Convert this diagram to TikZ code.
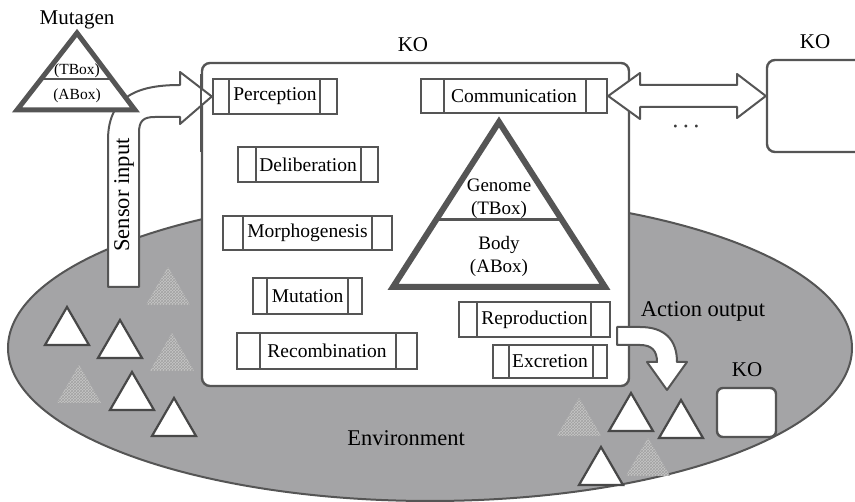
\documentclass[tikz,border=0pt]{standalone}
\usepackage{fontspec}
\setmainfont{Liberation Serif}
\usetikzlibrary{calc,patterns}
\definecolor{lineC}{HTML}{555555}
\definecolor{envC}{HTML}{A4A4A6}
\definecolor{hatchC}{HTML}{C6C6C6}
\definecolor{hatchL}{HTML}{A2A2A2}
\newcommand\modfont{\fontsize{19.5}{22}\selectfont}
\newcommand\labfont{\fontsize{22.5}{25}\selectfont}
\newcommand\kofont{\fontsize{21}{23}\selectfont}
\newcommand\genfont{\fontsize{19}{23}\selectfont}
\newcommand\mutfont{\fontsize{15.5}{17}\selectfont}
\begin{document}
\begin{tikzpicture}[x=1pt,y=-1pt,
  edge/.style={draw=lineC,line width=2.4pt},
  module/.style n args={4}{edge,fill=white,inner sep=0pt,font=\modfont,
    minimum width=#1,minimum height=#2,
    path picture={\draw[lineC,line width=2.4pt]
      ([xshift=#3]path picture bounding box.north west) --
      ([xshift=#3]path picture bounding box.south west)
      ([xshift=-#4]path picture bounding box.north east) --
      ([xshift=-#4]path picture bounding box.south east);}},
  kobox/.style={edge,fill=white,rounded corners=8pt,inner sep=0pt},
  blockarrow/.style={draw=lineC,line width=2pt,fill=white,line join=round},
  wtri/.style={draw=lineC!85!black,line width=2.2pt,fill=white,line join=miter},
  htri/.style={fill=hatchC,postaction={pattern=crosshatch,pattern color=hatchL}},
  bigtri/.style={draw=lineC,line width=6pt,fill=white,line join=miter},
  label/.style={font=\labfont,inner sep=0pt},
  kolabel/.style={font=\kofont,inner sep=0pt}]
\useasboundingbox (0,0) rectangle (855,502);

% environment
\draw[draw=lineC,line width=2pt,fill=envC] (430,348) ellipse [x radius=422pt,y radius=153pt];

% objects lying in the environment
\foreach \ax/\ay in {67/307,120/320,132/372,174/398,631/393,681/400,601/447}
  \draw[wtri] (\ax,\ay) -- ++(-22,38) -- ++(44,0) -- cycle;
\foreach \ax/\ay in {168/267,172/333,79/365,579/398,648/438}
  \path[htri] (\ax,\ay) -- ++(-22,38) -- ++(44,0) -- cycle;

% the knowledge object
\node[kobox,minimum width=427pt,minimum height=323pt] (ko) at (415.5,224.5) {};
\node[kolabel] (kolab) at (413,45) {KO};

% modules
\node[module={124pt}{35pt}{16pt}{17pt}] (perception) at (275,96.5) {Perception};
\node[module={186pt}{34pt}{23pt}{21pt}] (communication) at (514,96) {Communication};
\node[module={140pt}{35pt}{18pt}{17pt}] (deliberation) at (308,164.5) {Deliberation};
\node[module={169pt}{34pt}{20pt}{20pt}] (morpho) at (307.5,233) {Morphogenesis};
\node[module={109pt}{36pt}{14pt}{14pt}] (mutation) at (307.5,296) {Mutation};
\node[module={180pt}{36pt}{23pt}{21pt}] (recomb) at (327,351) {Recombination};
\node[module={151pt}{35pt}{18pt}{19pt}] (reproduction) at (534.5,319.5) {Reproduction};
\node[module={114pt}{33pt}{16pt}{14pt}] (excretion) at (550,361.5) {Excretion};

% genome / body triangle
\draw[bigtri] (499,122) coordinate (gtop) -- (393,287) -- (605,287) -- cycle;
\draw[lineC,line width=3pt] (436,220) -- (562,220);
\node[font=\genfont,align=center,inner sep=0pt] (genome) at (499,199) {Genome\\(TBox)};
\node[font=\genfont,align=center,inner sep=0pt] (body) at (499,256) {Body\\(ABox)};

% sensor input arrow
\draw[blockarrow] (108,287) -- (108,140) .. controls (108,95) and (140,85) .. (180,85)
  -- (180,72) -- (perception.west) -- (180,124) -- (180,117) -- (155,117)
  .. controls (143,117) and (139,121) .. (139,133) -- (139,287) -- cycle;
\draw[edge] ([yshift=-12pt]ko.north west) -- ([yshift=-90pt]ko.north west);
\node[label,rotate=90] (sensor) at (124,195) {Sensor input};

% mutagen triangle
\draw[draw=lineC,line width=5pt,fill=white,line join=miter] (77,33) -- (17,110) -- (135,110) -- cycle;
\draw[lineC,line width=2.4pt] (41,79) -- (113,79);
\node[kolabel] (mutagen) at (77,20) {Mutagen};
\node[font=\mutfont,inner sep=0pt] (mtbox) at (77,71) {(TBox)};
\node[font=\mutfont,inner sep=0pt] (mabox) at (77,96) {(ABox)};

% neighbouring knowledge object
\node[kobox,minimum width=133pt,minimum height=92pt] (ko2) at (833.5,106) {};
\node[kolabel] (ko2lab) at (815,42) {KO};
\draw[blockarrow] (communication.east) -- (640,73) -- (640,85) -- (737,85) -- (737,74)
  -- (ko2.west |- communication.east) -- (737,118) -- (737,107) -- (640,107) -- (640,119) -- cycle;
\node[font=\fontsize{12}{12}\selectfont,text=lineC!70!black,inner sep=0pt] (dots) at (686,128)
  {\textbullet\hspace{6.3pt}\textbullet\hspace{6.3pt}\textbullet};

% action output arrow
\coordinate (acttail) at (617,336);
\draw[blockarrow] (acttail |- 0,327) -- (640,327) .. controls (665,327) and (677,340) .. (677,362)
  -- (687,362) -- (667,390) coordinate (acttip) -- (647,362) -- (657,362)
  .. controls (657,351) and (652,345) .. (640,345) -- (acttail |- 0,345) -- cycle;
\node[label] (action) at (703,311) {Action output};

% small knowledge object in the environment
\node[kobox,rounded corners=6pt,minimum width=59pt,minimum height=49pt] (ko3) at (746.5,412.5) {};
\node[kolabel] (ko3lab) at (747,370) {KO};

\node[label] (envlab) at (406,438) {Environment};
\end{tikzpicture}
\end{document}
